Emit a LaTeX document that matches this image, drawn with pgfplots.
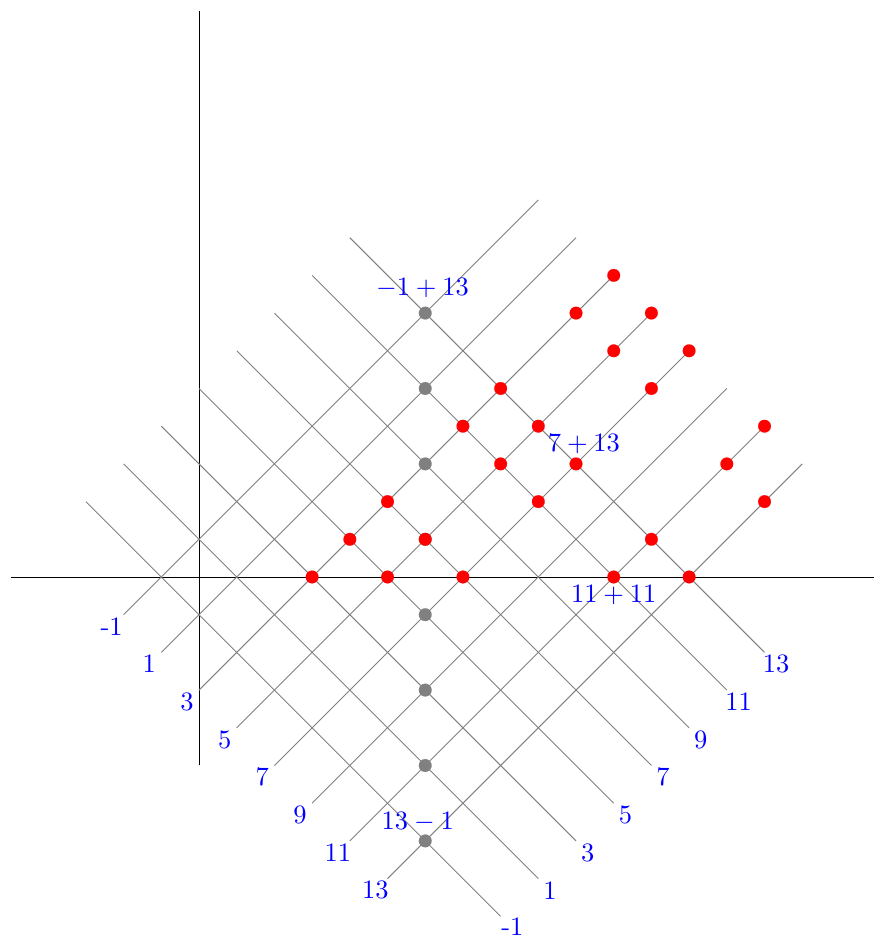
\documentclass[border=0pt]{standalone}
\usepackage{graphicx}
\usepackage{pgfplots}
\pgfplotsset{compat=1.18}
\newcommand\lab[1]{\scalebox{2}{#1}}
\begin{document}
\begin{tikzpicture}
\begin{axis}[
  x=1cm, y=1cm,
  xmin=-5.279, xmax=17.905, ymin=-9.549, ymax=15.305,
  axis line style={draw=none}, ticks=none, clip=false,
  set layers,
]
% gray points (x=(p+q)/2, y=(q-p)/2)
\addplot[gray, on layer=axis background, only marks, mark=*, mark size=4.8pt, mark options={draw=gray, fill=gray, line width=0.1pt}] coordinates {
 (6,7) (6,5) (6,3) (6,1) (6,-1) (6,-3) (6,-5) (6,-7)};
% red points (prime pairs)
\addplot[red, on layer=axis background, only marks, mark=*, mark size=4.8pt, mark options={draw=red, fill=red, line width=0.1pt}] coordinates {
 (3,0) (4,1) (5,2) (7,4) (8,5) (10,7) (11,8)
 (5,0) (6,1) (8,3) (9,4) (11,6) (12,7)
 (7,0) (9,2) (10,3) (12,5) (13,6)
 (11,0) (12,1) (14,3) (15,4)
 (13,0) (15,2)};
% axes
\addplot[black, line width=0.6pt] coordinates {(-5,0) (17.9,0)};
\addplot[black, line width=0.6pt] coordinates {(0,-5) (0,15)};
% p = const lines (slope +1)
\addplot[gray, line width=0.7pt] coordinates {(-2,-1) (9,10)};
\addplot[gray, line width=0.7pt] coordinates {(-1,-2) (10,9)};
\addplot[gray, line width=0.7pt] coordinates {(0,-3) (11,8)};
\addplot[gray, line width=0.7pt] coordinates {(1,-4) (12,7)};
\addplot[gray, line width=0.7pt] coordinates {(2,-5) (13,6)};
\addplot[gray, line width=0.7pt] coordinates {(3,-6) (14,5)};
\addplot[gray, line width=0.7pt] coordinates {(4,-7) (15,4)};
\addplot[gray, line width=0.7pt] coordinates {(5,-8) (16,3)};
% q = const lines (slope -1)
\addplot[gray, line width=0.7pt] coordinates {(-3,2) (8,-9)};
\addplot[gray, line width=0.7pt] coordinates {(-2,3) (9,-8)};
\addplot[gray, line width=0.7pt] coordinates {(-1,4) (10,-7)};
\addplot[gray, line width=0.7pt] coordinates {(0,5) (11,-6)};
\addplot[gray, line width=0.7pt] coordinates {(1,6) (12,-5)};
\addplot[gray, line width=0.7pt] coordinates {(2,7) (13,-4)};
\addplot[gray, line width=0.7pt] coordinates {(3,8) (14,-3)};
\addplot[gray, line width=0.7pt] coordinates {(4,9) (15,-2)};
% line labels (centred a little beyond the lower ends)
\node[blue, inner sep=0pt] at (axis cs:-2.32,-1.31) {\lab{-1}};
\node[blue, inner sep=0pt] at (axis cs:-1.32,-2.31) {\lab{1}};
\node[blue, inner sep=0pt] at (axis cs:-0.32,-3.31) {\lab{3}};
\node[blue, inner sep=0pt] at (axis cs:0.68,-4.31) {\lab{5}};
\node[blue, inner sep=0pt] at (axis cs:1.68,-5.31) {\lab{7}};
\node[blue, inner sep=0pt] at (axis cs:2.68,-6.31) {\lab{9}};
\node[blue, inner sep=0pt] at (axis cs:3.68,-7.31) {\lab{11}};
\node[blue, inner sep=0pt] at (axis cs:4.68,-8.31) {\lab{13}};
\node[blue, inner sep=0pt] at (axis cs:8.31,-9.27) {\lab{-1}};
\node[blue, inner sep=0pt] at (axis cs:9.31,-8.31) {\lab{1}};
\node[blue, inner sep=0pt] at (axis cs:10.31,-7.31) {\lab{3}};
\node[blue, inner sep=0pt] at (axis cs:11.31,-6.31) {\lab{5}};
\node[blue, inner sep=0pt] at (axis cs:12.31,-5.31) {\lab{7}};
\node[blue, inner sep=0pt] at (axis cs:13.31,-4.31) {\lab{9}};
\node[blue, inner sep=0pt] at (axis cs:14.31,-3.31) {\lab{11}};
\node[blue, inner sep=0pt] at (axis cs:15.31,-2.31) {\lab{13}};
% point labels
\node[blue, inner sep=0pt] at (axis cs:5.93,7.66) {\lab{$-1+13$}};
\node[blue, inner sep=0pt] at (axis cs:10.21,3.53) {\lab{$7+13$}};
\node[blue, inner sep=0pt] at (axis cs:11,-0.48) {\lab{$11+11$}};
\node[blue, inner sep=0pt] at (axis cs:5.80,-6.49) {\lab{$13-1$}};
\end{axis}
\end{tikzpicture}
\end{document}
